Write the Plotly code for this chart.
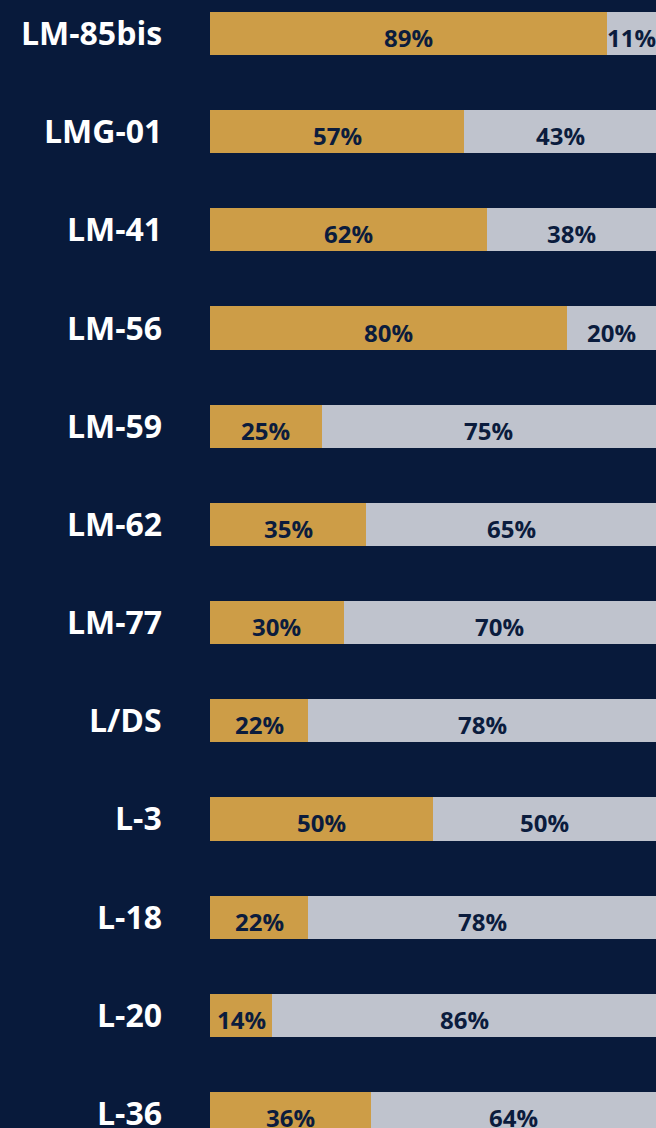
import plotly.graph_objects as go

categories = ["LM-85bis", "LMG-01", "LM-41", "LM-56", "LM-59", "LM-62",
              "LM-77", "L/DS", "L-3", "L-18", "L-20", "L-36"]
gold_values = [89, 57, 62, 80, 25, 35, 30, 22, 50, 22, 14, 36]
gray_values = [11, 43, 38, 20, 75, 65, 70, 78, 50, 78, 86, 64]

BG = "#081a3b"
GOLD = "#cd9d47"
GRAY = "#bfc3cd"
TEXT_DARK = "#0b1c3d"
FONT = "Open Sans"

idx = list(range(len(categories)))

fig = go.Figure()
fig.add_trace(go.Bar(y=idx, x=gold_values, orientation="h",
                     marker=dict(color=GOLD, line=dict(width=0)),
                     width=0.44, hoverinfo="skip"))
fig.add_trace(go.Bar(y=idx, x=gray_values, orientation="h",
                     marker=dict(color=GRAY, line=dict(width=0)),
                     width=0.44, hoverinfo="skip"))

annotations = []
for i, (cat, g, r) in enumerate(zip(categories, gold_values, gray_values)):
    annotations.append(dict(
        x=0, xref="paper", y=i, yref="y", text=cat, showarrow=False,
        xanchor="right", yanchor="middle", xshift=-46, yshift=1,
        font=dict(family=FONT, size=32, color="white", weight="bold")))
    annotations.append(dict(
        x=g / 2, xref="x", y=i, yref="y", text=f"{g}%", showarrow=False,
        xanchor="center", yanchor="middle", yshift=-4,
        font=dict(family=FONT, size=24, color=TEXT_DARK, weight="bold")))
    annotations.append(dict(
        x=g + r / 2, xref="x", y=i, yref="y", text=f"{r}%", showarrow=False,
        xanchor="center", yanchor="middle", yshift=-4,
        font=dict(family=FONT, size=24, color=TEXT_DARK, weight="bold")))

fig.update_layout(
    barmode="stack",
    width=656, height=1128,
    margin=dict(l=210, r=0, t=0, b=0),
    paper_bgcolor=BG, plot_bgcolor=BG,
    showlegend=False,
    xaxis=dict(range=[0, 100], visible=False, fixedrange=True),
    yaxis=dict(range=[11.148, -0.341], visible=False, fixedrange=True),
    annotations=annotations,
)

fig.write_html("out.html", config={"displayModeBar": False})
